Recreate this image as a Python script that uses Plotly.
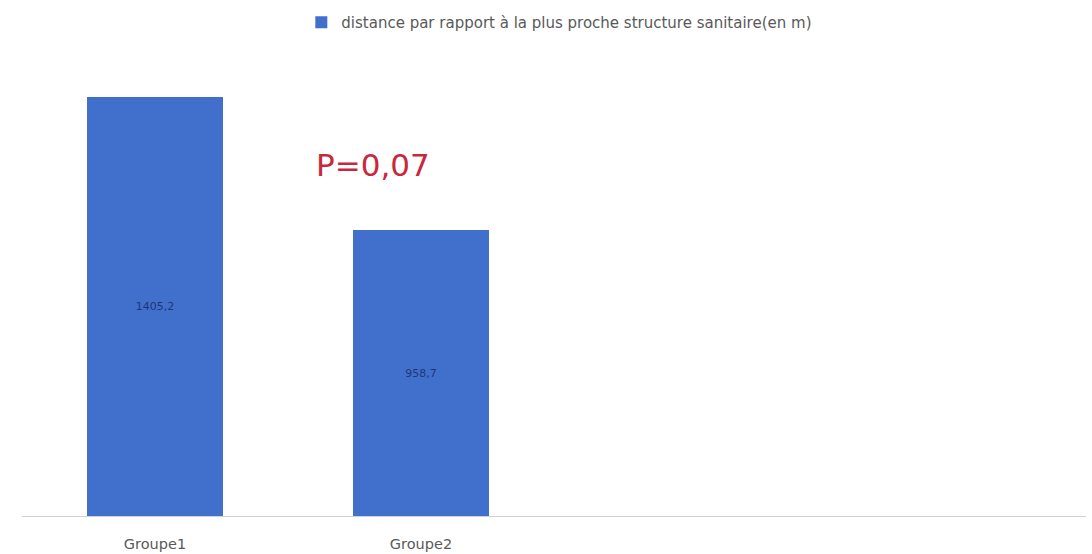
import plotly.graph_objects as go

# Distance moyenne à la structure sanitaire la plus proche, par groupe
categories = ["Groupe1", "Groupe2"]
distances = [1405.2, 958.7]
labels = ["1405,2", "958,7"]
series_name = "distance par rapport à la plus proche structure sanitaire(en m)"
p_value_text = "P=0,07"

positions = list(range(len(categories)))

fig = go.Figure()
fig.add_trace(go.Bar(
    x=positions,
    y=distances,
    name=series_name,
    width=0.51,
    marker=dict(color="#4170cc", line=dict(width=0)),
    text=labels,
    textposition="inside",
    insidetextanchor="middle",
    textfont=dict(color="#1f3578", size=11, family="DejaVu Sans"),
    showlegend=True,
))

fig.add_annotation(
    x=0.82, y=1178, xref="x", yref="y",
    text=p_value_text, showarrow=False,
    font=dict(color="#c8283c", size=31, family="DejaVu Sans"),
)

fig.update_layout(
    width=1092, height=554,
    margin=dict(l=22, r=6, t=40, b=38),
    paper_bgcolor="white", plot_bgcolor="white",
    bargap=0,
    showlegend=True,
    legend=dict(
        orientation="h", x=0.505, xanchor="center", y=1.048, yanchor="middle",
        font=dict(size=15, color="#595959", family="DejaVu Sans"),
        itemwidth=30,
    ),
    xaxis=dict(
        range=[-0.5, 3.5], automargin=False,
        tickmode="array", tickvals=positions, ticktext=categories,
        showgrid=False, zeroline=False,
        showline=True, linecolor="#d0d0d0", linewidth=1,
        ticks="", ticklabelstandoff=15,
        tickfont=dict(size=14.5, color="#595959", family="DejaVu Sans"),
    ),
    yaxis=dict(
        range=[0, 1581], visible=False, showgrid=False, zeroline=False,
    ),
)

fig.write_html("out.html")
